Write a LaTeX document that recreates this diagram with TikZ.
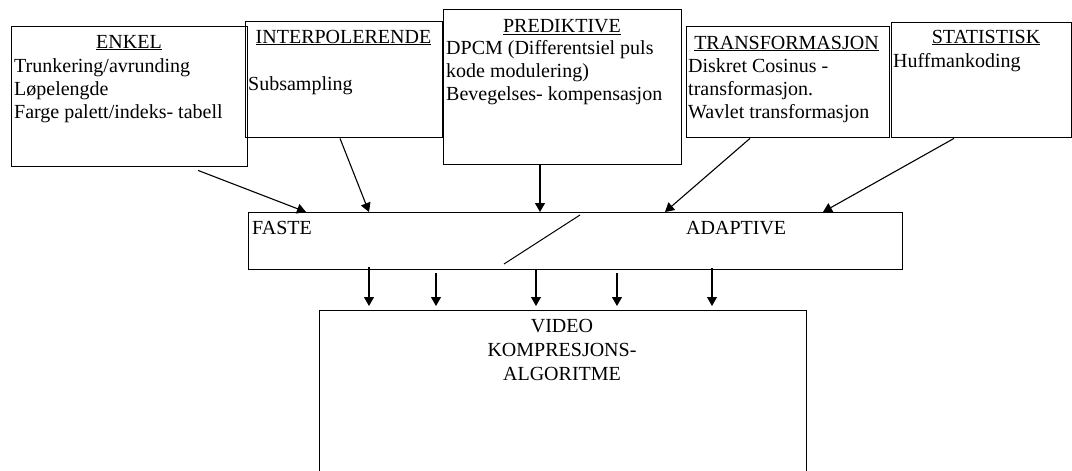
\documentclass[tikz,border=0pt]{standalone}
\usepackage{fontspec}
\setmainfont{Liberation Serif}
\usetikzlibrary{arrows.meta,calc}
\begin{document}
\begin{tikzpicture}[x=1pt,y=-1pt,
  box/.style={draw,line width=1.4pt,rectangle,inner sep=0pt,anchor=north west},
  txt/.style={inner sep=0pt,font=\fontsize{20}{23}\selectfont,align=left,anchor=base west},
  ttl/.style={inner sep=0pt,font=\fontsize{20}{23}\selectfont,anchor=base},
  arr/.style={line width=1.1pt,-{Triangle[length=9pt,width=10pt]}}]
\useasboundingbox (0,0) rectangle (1072,471);

% method boxes along the top
\node[box,minimum width=236pt,minimum height=140pt] (enkel) at (11,26) {};
\node[box,minimum width=197pt,minimum height=116pt] (interp) at (245,21) {};
\node[box,minimum width=238pt,minimum height=155pt] (pred) at (443,9) {};
\node[box,minimum width=203pt,minimum height=111pt] (trans) at (686,26) {};
\node[box,minimum width=180pt,minimum height=115pt] (stat) at (891,22) {};

% fixed / adaptive band and the algorithm box
\node[box,minimum width=654pt,minimum height=57pt] (mid) at (248,212) {};
\node[box,minimum width=487pt,minimum height=175pt] (video) at (319,310) {};

% titles
\node[ttl] (tEnkel) at (129,48) {\underline{ENKEL}};
\node[ttl] (tInterp) at (343.5,43) {\underline{INTERPOLERENDE}};
\node[ttl] (tPred) at (562,32) {\underline{PREDIKTIVE}};
\node[ttl] (tTrans) at (786.5,49) {\underline{TRANSFORMASJON}};
\node[ttl] (tStat) at (986,43) {\underline{STATISTISK}};

% contents (multi-line blocks are placed by the baseline of their last line)
\node[txt] (bEnkel) at (14,118) {Trunkering/avrunding\\Løpelengde\\Farge palett/indeks- tabell};
\node[txt] (bInterp) at (248,90) {Subsampling};
\node[txt] (bPred) at (446,100) {DPCM (Differentsiel puls\\kode modulering)\\Bevegelses- kompensasjon};
\node[txt] (bTrans) at (688,118) {Diskret Cosinus -\\transformasjon.\\Wavlet transformasjon};
\node[txt] (bStat) at (893,67) {Huffmankoding};

\node[txt] (faste) at (252,234) {FASTE};
\node[txt] (adapt) at (686,234) {ADAPTIVE};
\node[ttl,align=center,font=\fontsize{20}{24}\selectfont] (vtext) at (562,380) {VIDEO\\KOMPRESJONS-\\ALGORITME};

% divider between fixed and adaptive
\coordinate (d1) at (580,215);
\coordinate (d2) at (504,264);
\draw[line width=1pt] (d1) -- (d2);

% arrows into the band
\coordinate (s1) at ($(enkel.south west)+(187,3)$);
\draw[arr] (s1) -- ($(mid.north west)+(58,0)$);
\draw[arr] ($(interp.south west)+(95,0)$) -- ($(mid.north west)+(121,0)$);
\draw[arr] ($(pred.south west)+(97,0)$) -- ($(mid.north west)+(292,0)$);
\draw[arr] ($(trans.south west)+(64,0)$) -- ($(mid.north west)+(417,0)$);
\draw[arr] ($(stat.south west)+(63,0)$) -- ($(mid.north west)+(575,0)$);

% arrows into the algorithm box
\foreach \dx/\dy in {121/-3, 188/3, 288/0, 369/3, 464/-2}{
  \draw[arr,shorten >=4pt] ($(mid.south west)+(\dx,\dy)$) -- ($(video.north west)+(\dx-71,0)$);
}
\end{tikzpicture}
\end{document}
